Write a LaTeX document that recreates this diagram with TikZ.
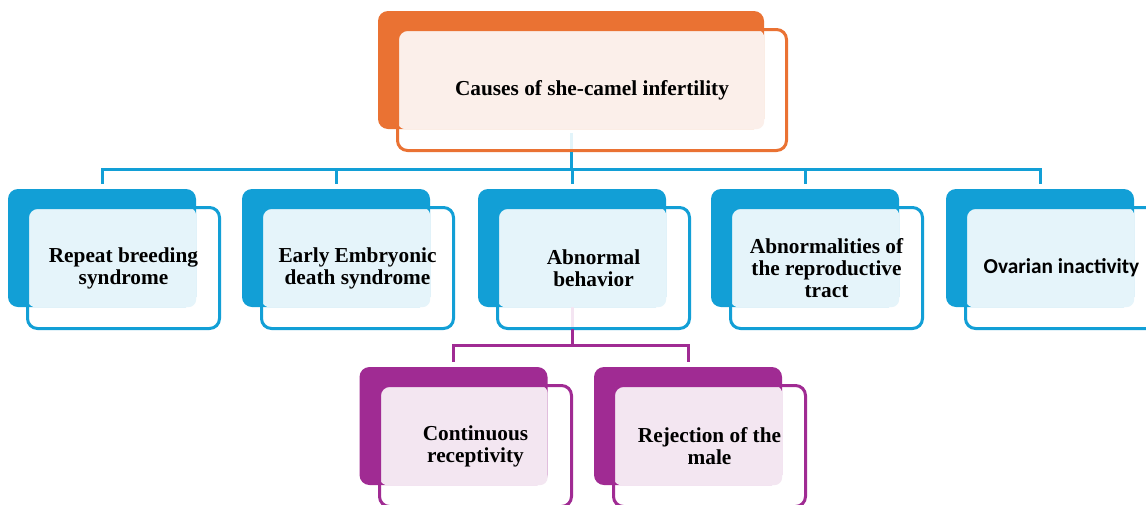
\documentclass[tikz,border=0pt]{standalone}
\usepackage{fontspec}
\setmainfont{Liberation Serif}
\newfontfamily\calib{Carlito}
\definecolor{corange}{HTML}{EA7233}
\definecolor{lorange}{HTML}{FBEFEA}
\definecolor{cblue}{HTML}{129FD6}
\definecolor{lblue}{HTML}{E5F4FA}
\definecolor{cpurp}{HTML}{A02B93}
\definecolor{lpurp}{HTML}{F3E6F1}
\pgfdeclarelayer{back}
\pgfdeclarelayer{mid}
\pgfsetlayers{back,mid,main}
\tikzset{
  backbox/.style={rectangle, rounded corners=10pt, minimum width=188pt, minimum height=118pt, inner sep=0pt, draw=none},
  topback/.style={backbox, minimum width=386pt},
  frontbox/.style={rectangle, rounded corners=10pt, minimum width=192pt, minimum height=121pt, line width=3pt, align=center, inner sep=0pt, font=\bfseries\fontsize{21.3}{22}\selectfont},
  topfront/.style={frontbox, minimum width=389pt},
  lightfill/.style={rounded corners=8pt},
  conn/.style={line width=3pt},
}
\newcommand\lightpart[3]{%
  \begin{pgfonlayer}{mid}
    \fill[lightfill,#3] ([xshift=1.5pt,yshift=-1.5pt]#1.north west) rectangle (#2.south east);
  \end{pgfonlayer}}
\begin{document}
\begin{tikzpicture}[x=1pt,y=-1pt]
\useasboundingbox (0,0) rectangle (1146,504);
\clip (0,0) rectangle (1146,504);
\begin{pgfonlayer}{back}
\fill[white] (0,0) rectangle (1146,504);
\end{pgfonlayer}

% top
\begin{pgfonlayer}{back}
\node[topback, fill=corange] (tb) at (571,70) {};
\end{pgfonlayer}
\node[topfront, draw=corange] (tf) at (592,90) {Causes of she-camel infertility};
\lightpart{tf}{tb}{lorange}

% level 1
\begin{pgfonlayer}{back}
\node[backbox, fill=cblue] (b1) at (102,248) {};
\node[backbox, fill=cblue] (b2) at (336,248) {};
\node[backbox, fill=cblue] (b3) at (572,248) {};
\node[backbox, fill=cblue] (b4) at (805,248) {};
\node[backbox, fill=cblue] (b5) at (1040,248) {};
\end{pgfonlayer}
\node[frontbox, draw=cblue] (f1) at (123.5,268) {Repeat breeding\\syndrome};
\node[frontbox, draw=cblue] (f2) at (357.5,268) {Early Embryonic\\death syndrome};
\node[frontbox, draw=cblue] (f3) at (593.5,268) {Abnormal\\behavior};
\node[frontbox, draw=cblue] (f4) at (826.5,268) {Abnormalities of\\the reproductive\\tract};
\node[frontbox, draw=cblue, font=\calib\bfseries\fontsize{21.3}{22}\selectfont] (f5) at (1061.5,268) {Ovarian inactivity};
\lightpart{f1}{b1}{lblue}
\lightpart{f2}{b2}{lblue}
\lightpart{f3}{b3}{lblue}
\lightpart{f4}{b4}{lblue}
\lightpart{f5}{b5}{lblue}

% level 2
\begin{pgfonlayer}{back}
\node[backbox, fill=cpurp] (p1) at (453.5,426) {};
\node[backbox, fill=cpurp] (p2) at (688,426) {};
\end{pgfonlayer}
\node[frontbox, draw=cpurp] (g1) at (475.5,446) {Continuous\\receptivity};
\node[frontbox, draw=cpurp] (g2) at (709.5,446) {Rejection of the\\male};
\lightpart{g1}{p1}{lpurp}
\lightpart{g2}{p2}{lpurp}

% connectors
\coordinate (busy) at (0,169);
\coordinate (pbusy) at (0,345);
\begin{pgfonlayer}{back}
\draw[conn, cblue!12] ([yshift=-4pt]tb.south) -- (tb.south |- tf.south);
\draw[conn, cpurp!12] (b3.south) -- (b3.south |- f3.south);
\end{pgfonlayer}
\draw[conn, cblue] (tb.south |- tf.south) -- (tb.south |- busy);
\draw[conn, cblue] ([yshift=5pt]b1.north) |- (b3.north |- busy) -| ([yshift=5pt]b5.north);
\draw[conn, cblue] ([yshift=5pt]b2.north) -- (b2.north |- busy);
\draw[conn, cblue] ([yshift=5pt]b3.north) -- (b3.north |- busy);
\draw[conn, cblue] ([yshift=5pt]b4.north) -- (b4.north |- busy);
\draw[conn, cpurp] ([yshift=1.5pt]b3.south |- f3.south) -- (b3.south |- pbusy);
\draw[conn, cpurp] ([yshift=5pt]p1.north) |- (b3.south |- pbusy) -| ([yshift=5pt]p2.north);
\end{tikzpicture}
\end{document}
